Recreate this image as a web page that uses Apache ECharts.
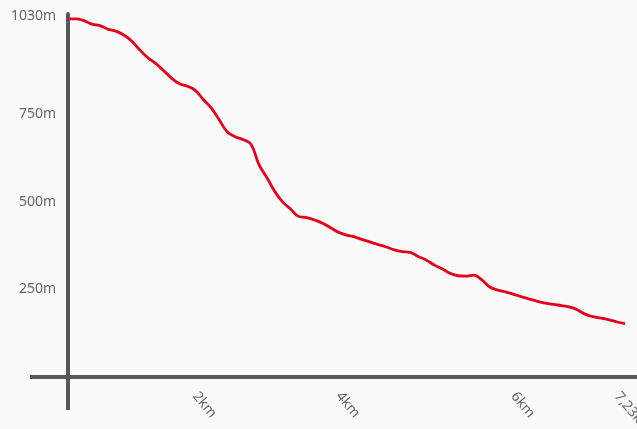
<!DOCTYPE html>
<html>
<head>
<meta charset="utf-8">
<script src="https://cdn.jsdelivr.net/npm/echarts@6/dist/echarts.min.js"></script>
<style>
html,body{margin:0;padding:0;background:#fafafa;}
#c{width:637px;height:429px;}
</style>
</head>
<body>
<div id="c"></div>
<script>
// elevation (m) at each profile sample point (index 0..70)
var elevation = [1022,1022,1017,1007,1003,993,987,976,959,934,
  912,895,875,853,837,830,818,792,768,734,
  700,686,678,664,606,569,529,499,479,458,
  455,448,439,426,413,405,400,392,385,378,
  371,363,358,356,344,334,320,309,296,289,
  288,291,277,257,248,243,236,229,222,216,
  211,207,204,200,192,179,172,168,163,157,152];
// distance tick labels and the sample index they belong to
var xTickIndex = [16,34,56,69];
var xTickLabels = ['2km','4km','6km','7,23km'];
// elevation tick labels
var yTickValues = [250,500,750,1030];

var seriesData = elevation.map(function(v,i){return [i,v];});
var labelMap = {};
xTickIndex.forEach(function(idx,k){labelMap[idx]=xTickLabels[k];});

var axisColor = '#58585b';
var chart = echarts.init(document.getElementById('c'), null, {renderer:'canvas'});
chart.setOption({
  backgroundColor:'#fafafa',
  animation:false,
  grid:{left:68,right:0,top:14,bottom:52,containLabel:false,outerBoundsMode:'none'},
  xAxis:{
    type:'value',min:0,max:71.5,
    splitLine:{show:false},
    axisTick:{show:true,customValues:[0],inside:false,length:33,lineStyle:{color:axisColor,width:4}},
    axisLine:{show:true,lineStyle:{color:axisColor,width:4}},
    axisLabel:{
      customValues:xTickIndex,
      rotate:-50,margin:17,
      color:'#666',fontSize:14,fontFamily:'Noto Sans',
      formatter:function(v){return labelMap[Math.round(v)]||'';}
    }
  },
  yAxis:{
    type:'value',min:0,max:1036,
    splitLine:{show:false},
    axisTick:{show:true,customValues:[0],inside:false,length:38,lineStyle:{color:axisColor,width:4}},
    axisLine:{show:true,lineStyle:{color:axisColor,width:4}},
    axisLabel:{
      customValues:yTickValues,
      margin:12,
      color:'#666',fontSize:14,fontFamily:'Noto Sans',
      formatter:function(v){return v+'m';}
    }
  },
  series:[{
    type:'line',
    data:seriesData,
    smooth:0.4,
    showSymbol:false,
    lineStyle:{color:'#e2001a',width:2.8},
    z:1
  }]
});
</script>
</body>
</html>
